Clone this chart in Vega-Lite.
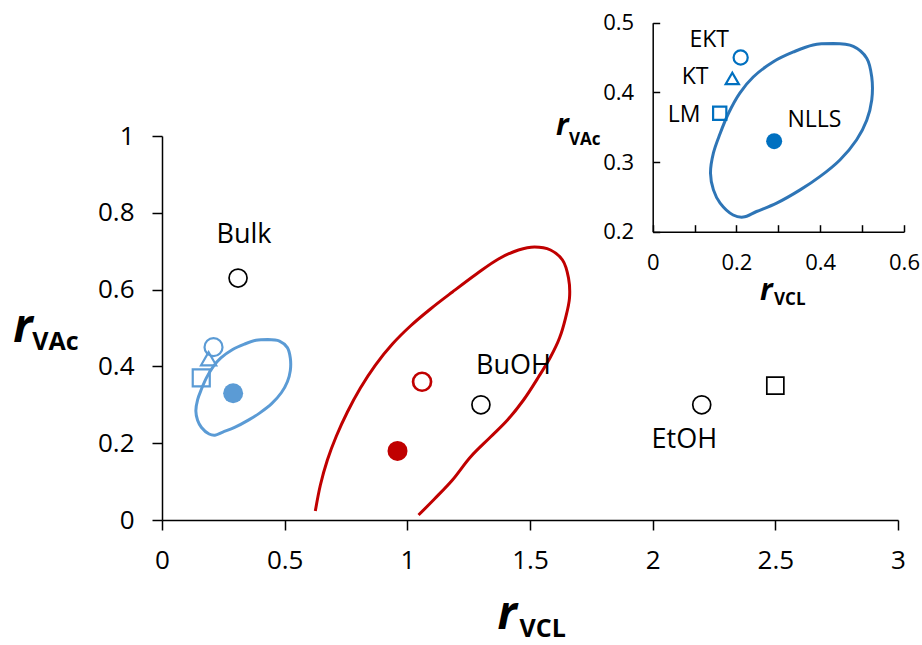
{
  "$schema": "https://vega.github.io/schema/vega-lite/v6.json",
  "width": 736,
  "height": 384,
  "autosize": "none",
  "padding": {"left": 162, "top": 136, "right": 24, "bottom": 125},
  "background": "white",
  "config": {"view": {"stroke": null}},
  "datasets": {
    "points": [
      {"system": "Bulk", "method": "EKT", "x": 0.31, "y": 0.63},
      {"system": "BuOH", "method": "EKT", "x": 1.3, "y": 0.3},
      {"system": "EtOH", "method": "EKT", "x": 2.2, "y": 0.3},
      {"system": "EtOH", "method": "LM", "x": 2.5, "y": 0.35},
      {"system": "A", "method": "EKT", "x": 0.21, "y": 0.45},
      {"system": "A", "method": "KT", "x": 0.19, "y": 0.42},
      {"system": "A", "method": "LM", "x": 0.16, "y": 0.37},
      {"system": "A", "method": "NLLS", "x": 0.29, "y": 0.33},
      {"system": "B", "method": "EKT", "x": 1.06, "y": 0.36},
      {"system": "B", "method": "NLLS", "x": 0.96, "y": 0.18}
    ],
    "contours": [
      {"system": "A", "i": 0, "x": 0.431, "y": 0.470},
      {"system": "A", "i": 1, "x": 0.479, "y": 0.466},
      {"system": "A", "i": 2, "x": 0.511, "y": 0.449},
      {"system": "A", "i": 3, "x": 0.523, "y": 0.422},
      {"system": "A", "i": 4, "x": 0.523, "y": 0.389},
      {"system": "A", "i": 5, "x": 0.511, "y": 0.360},
      {"system": "A", "i": 6, "x": 0.487, "y": 0.332},
      {"system": "A", "i": 7, "x": 0.447, "y": 0.303},
      {"system": "A", "i": 8, "x": 0.399, "y": 0.279},
      {"system": "A", "i": 9, "x": 0.352, "y": 0.260},
      {"system": "A", "i": 10, "x": 0.296, "y": 0.241},
      {"system": "A", "i": 11, "x": 0.248, "y": 0.229},
      {"system": "A", "i": 12, "x": 0.216, "y": 0.221},
      {"system": "A", "i": 13, "x": 0.192, "y": 0.224},
      {"system": "A", "i": 14, "x": 0.161, "y": 0.241},
      {"system": "A", "i": 15, "x": 0.145, "y": 0.260},
      {"system": "A", "i": 16, "x": 0.138, "y": 0.284},
      {"system": "A", "i": 17, "x": 0.145, "y": 0.313},
      {"system": "A", "i": 18, "x": 0.161, "y": 0.341},
      {"system": "A", "i": 19, "x": 0.181, "y": 0.370},
      {"system": "A", "i": 20, "x": 0.208, "y": 0.399},
      {"system": "A", "i": 21, "x": 0.240, "y": 0.422},
      {"system": "A", "i": 22, "x": 0.288, "y": 0.444},
      {"system": "A", "i": 23, "x": 0.336, "y": 0.458},
      {"system": "A", "i": 24, "x": 0.383, "y": 0.468},
      {"system": "A", "i": 25, "x": 0.431, "y": 0.470},
      {"system": "B", "i": 0, "x": 0.625, "y": 0.0234},
      {"system": "B", "i": 1, "x": 0.6456, "y": 0.0911},
      {"system": "B", "i": 2, "x": 0.6741, "y": 0.1563},
      {"system": "B", "i": 3, "x": 0.7108, "y": 0.2188},
      {"system": "B", "i": 4, "x": 0.7557, "y": 0.2813},
      {"system": "B", "i": 5, "x": 0.8087, "y": 0.3438},
      {"system": "B", "i": 6, "x": 0.8699, "y": 0.4036},
      {"system": "B", "i": 7, "x": 0.9392, "y": 0.4583},
      {"system": "B", "i": 8, "x": 1.0126, "y": 0.5052},
      {"system": "B", "i": 9, "x": 1.0942, "y": 0.5495},
      {"system": "B", "i": 10, "x": 1.1839, "y": 0.5938},
      {"system": "B", "i": 11, "x": 1.2818, "y": 0.6406},
      {"system": "B", "i": 12, "x": 1.3715, "y": 0.6797},
      {"system": "B", "i": 13, "x": 1.4531, "y": 0.7031},
      {"system": "B", "i": 14, "x": 1.5184, "y": 0.7109},
      {"system": "B", "i": 15, "x": 1.5836, "y": 0.7031},
      {"system": "B", "i": 16, "x": 1.6325, "y": 0.6771},
      {"system": "B", "i": 17, "x": 1.6570, "y": 0.6302},
      {"system": "B", "i": 18, "x": 1.6610, "y": 0.5781},
      {"system": "B", "i": 19, "x": 1.6448, "y": 0.5260},
      {"system": "B", "i": 20, "x": 1.6203, "y": 0.4740},
      {"system": "B", "i": 21, "x": 1.5836, "y": 0.4245},
      {"system": "B", "i": 22, "x": 1.5347, "y": 0.3724},
      {"system": "B", "i": 23, "x": 1.4736, "y": 0.3125},
      {"system": "B", "i": 24, "x": 1.4083, "y": 0.2604},
      {"system": "B", "i": 25, "x": 1.3390, "y": 0.2161},
      {"system": "B", "i": 26, "x": 1.2574, "y": 0.1641},
      {"system": "B", "i": 27, "x": 1.1839, "y": 0.1042},
      {"system": "B", "i": 28, "x": 1.1105, "y": 0.0547},
      {"system": "B", "i": 29, "x": 1.0457, "y": 0.0130}
    ],
    "labels": [
      {"label": "Bulk", "set": "main", "x": 0.334, "y": 0.742},
      {"label": "BuOH", "set": "main", "x": 1.433, "y": 0.402},
      {"label": "EtOH", "set": "main", "x": 2.129, "y": 0.208},
      {"label": "EKT", "set": "inset", "x": 0.135, "y": 0.475},
      {"label": "KT", "set": "inset", "x": 0.101, "y": 0.4225},
      {"label": "LM", "set": "inset", "x": 0.075, "y": 0.3675},
      {"label": "NLLS", "set": "inset", "x": 0.386, "y": 0.36}
    ],
    "titles": [
      {"part": "r", "set": "main", "x": 1.3675, "y": -0.285},
      {"part": "VCL", "set": "main", "x": 1.457, "y": -0.305},
      {"part": "r", "set": "main", "x": -0.6065, "y": 0.4635},
      {"part": "VAc", "set": "main", "x": -0.529, "y": 0.4427},
      {"part": "r", "set": "inset", "x": -0.2309, "y": 0.3388},
      {"part": "VAc", "set": "inset", "x": -0.1998, "y": 0.3244},
      {"part": "r", "set": "inset", "x": 0.2562, "y": 0.102},
      {"part": "VCL", "set": "inset", "x": 0.2896, "y": 0.0948}
    ]
  },
  "layer": [
    {
      "encoding": {
        "x": {"field": "x", "type": "quantitative",
          "scale": {"domain": [0, 3], "nice": false, "zero": false},
          "axis": {"orient": "bottom", "values": [0, 0.5, 1, 1.5, 2, 2.5, 3], "format": "~g", "title": null, "grid": false,
            "domainColor": "black", "domainWidth": 1.5, "tickColor": "black", "tickWidth": 1.5, "tickSize": 10,
            "labelFont": "Open Sans", "labelFontSize": 26, "labelColor": "black", "labelPadding": 17, "labelFlush": false}},
        "y": {"field": "y", "type": "quantitative",
          "scale": {"domain": [0, 1], "nice": false, "zero": false},
          "axis": {"orient": "left", "values": [0, 0.2, 0.4, 0.6, 0.8, 1], "format": "~g", "title": null, "grid": false,
            "domainColor": "black", "domainWidth": 1.5, "tickColor": "black", "tickWidth": 1.5, "tickSize": 10,
            "labelFont": "Open Sans", "labelFontSize": 26, "labelColor": "black", "labelPadding": 18, "labelFlush": false}}
      },
      "layer": [
        {
          "data": {"name": "contours"},
          "mark": {"type": "line", "strokeWidth": 3, "interpolate": "catmull-rom", "clip": false},
          "encoding": {
            "color": {"field": "system", "type": "nominal", "legend": null,
              "scale": {"domain": ["Bulk", "BuOH", "EtOH", "A", "B"], "range": ["black", "black", "black", "#5B9BD5", "#C00000"]}},
            "order": {"field": "i", "type": "quantitative"}
          }
        },
        {
          "data": {"name": "points"},
          "transform": [{"filter": "datum.method !== 'NLLS'"}],
          "mark": {"type": "point", "filled": false, "opacity": 1},
          "encoding": {
            "color": {"field": "system", "type": "nominal", "legend": null,
              "scale": {"domain": ["Bulk", "BuOH", "EtOH", "A", "B"], "range": ["black", "black", "black", "#5B9BD5", "#C00000"]}},
            "shape": {"field": "method", "type": "nominal", "legend": null,
              "scale": {"domain": ["EKT", "KT", "LM", "NLLS"], "range": ["circle", "triangle-up", "square", "circle"]}},
            "size": {"condition": [{"test": "datum.method === 'LM'", "value": 290}, {"test": "datum.method === 'KT'", "value": 230}], "value": 324},
            "strokeWidth": {"condition": [{"test": "datum.system === 'B'", "value": 2.7}, {"test": "datum.system === 'A'", "value": 2.2}], "value": 1.7}
          }
        },
        {
          "data": {"name": "points"},
          "transform": [{"filter": "datum.method === 'NLLS'"}],
          "mark": {"type": "circle", "size": 400, "opacity": 1},
          "encoding": {
            "color": {"field": "system", "type": "nominal", "legend": null,
              "scale": {"domain": ["Bulk", "BuOH", "EtOH", "A", "B"], "range": ["black", "black", "black", "#5B9BD5", "#C00000"]}}
          }
        },
        {
          "data": {"name": "labels"},
          "transform": [{"filter": "datum.set === 'main'"}],
          "mark": {"type": "text", "font": "Open Sans", "fontSize": 27, "color": "black", "align": "center", "baseline": "middle"},
          "encoding": {"text": {"field": "label"}}
        },
        {
          "data": {"name": "titles"},
          "transform": [{"filter": "datum.set === 'main' && datum.part === 'r'"}],
          "mark": {"type": "text", "font": "Open Sans", "fontSize": 46, "fontWeight": "bold", "fontStyle": "italic", "color": "black", "align": "left", "baseline": "alphabetic", "clip": false},
          "encoding": {"text": {"field": "part"}}
        },
        {
          "data": {"name": "titles"},
          "transform": [{"filter": "datum.set === 'main' && datum.part !== 'r'"}],
          "mark": {"type": "text", "font": "Open Sans", "fontSize": 25, "fontWeight": "bold", "color": "black", "align": "left", "baseline": "alphabetic", "clip": false},
          "encoding": {"text": {"field": "part"}}
        }
      ]
    },
    {
      "encoding": {
        "x": {"field": "x", "type": "quantitative",
          "scale": {"domain": [0, 0.6], "range": [490.7, 742], "nice": false, "zero": false},
          "axis": {"orient": "bottom", "offset": -288.3, "values": [0, 0.1, 0.2, 0.3, 0.4, 0.5, 0.6],
            "labelExpr": "(round(datum.value * 10) % 2 === 0) ? format(datum.value, '~g') : ''",
            "title": null, "grid": false,
            "domainColor": "black", "domainWidth": 1.5, "tickColor": "black", "tickWidth": 1.5, "tickSize": -7,
            "labelFont": "Open Sans", "labelFontSize": 22, "labelColor": "black", "labelPadding": 28, "labelFlush": false}},
        "y": {"field": "y", "type": "quantitative",
          "scale": {"domain": [0.2, 0.5], "range": [95.7, -113.3], "nice": false, "zero": false},
          "axis": {"orient": "left", "offset": -490.7, "values": [0.2, 0.3, 0.4, 0.5], "format": ".1f",
            "title": null, "grid": false,
            "domainColor": "black", "domainWidth": 1.5, "tickColor": "black", "tickWidth": 1.5, "tickSize": -7,
            "labelFont": "Open Sans", "labelFontSize": 22, "labelColor": "black", "labelPadding": 26, "labelFlush": false}}
      },
      "layer": [
        {
          "data": {"name": "contours"},
          "transform": [{"filter": "datum.system === 'A'"}],
          "mark": {"type": "line", "strokeWidth": 3, "interpolate": "catmull-rom", "color": "#2E75B6", "clip": false},
          "encoding": {"order": {"field": "i", "type": "quantitative"}}
        },
        {
          "data": {"name": "points"},
          "transform": [{"filter": "datum.system === 'A' && datum.method !== 'NLLS'"}],
          "mark": {"type": "point", "filled": false, "opacity": 1, "color": "#0070C0", "strokeWidth": 2.2},
          "encoding": {
            "shape": {"field": "method", "type": "nominal", "legend": null,
              "scale": {"domain": ["EKT", "KT", "LM", "NLLS"], "range": ["circle", "triangle-up", "square", "circle"]}},
            "size": {"condition": [{"test": "datum.method === 'LM'", "value": 175}, {"test": "datum.method === 'KT'", "value": 175}], "value": 200}
          }
        },
        {
          "data": {"name": "points"},
          "transform": [{"filter": "datum.system === 'A' && datum.method === 'NLLS'"}],
          "mark": {"type": "circle", "size": 256, "opacity": 1, "color": "#0070C0"}
        },
        {
          "data": {"name": "labels"},
          "transform": [{"filter": "datum.set === 'inset'"}],
          "mark": {"type": "text", "font": "Open Sans", "fontSize": 23, "color": "black", "align": "center", "baseline": "middle", "clip": false},
          "encoding": {"text": {"field": "label"}}
        },
        {
          "data": {"name": "titles"},
          "transform": [{"filter": "datum.set === 'inset' && datum.part === 'r'"}],
          "mark": {"type": "text", "font": "Open Sans", "fontSize": 30, "fontWeight": "bold", "fontStyle": "italic", "color": "black", "align": "left", "baseline": "alphabetic", "clip": false},
          "encoding": {"text": {"field": "part"}}
        },
        {
          "data": {"name": "titles"},
          "transform": [{"filter": "datum.set === 'inset' && datum.part !== 'r'"}],
          "mark": {"type": "text", "font": "Open Sans", "fontSize": 17, "fontWeight": "bold", "color": "black", "align": "left", "baseline": "alphabetic", "clip": false},
          "encoding": {"text": {"field": "part"}}
        }
      ]
    }
  ],
  "resolve": {
    "scale": {"x": "independent", "y": "independent"},
    "axis": {"x": "independent", "y": "independent"}
  }
}
